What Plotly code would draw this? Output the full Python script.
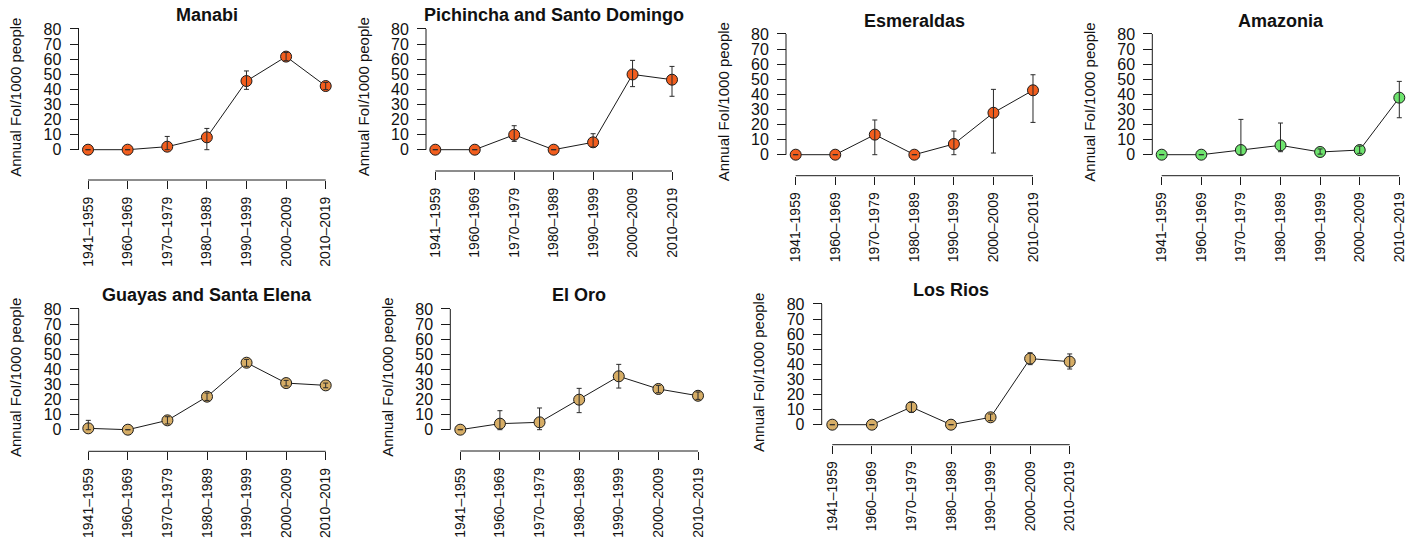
import plotly.graph_objects as go

# ---------------- data ----------------
periods = ["1941–1959", "1960–1969", "1970–1979", "1980–1989",
           "1990–1999", "2000–2009", "2010–2019"]
y_ticks = [0, 10, 20, 30, 40, 50, 60, 70, 80]

manabi_foi = [0, 0, 2.0, 8.2, 45.5, 61.7, 42.2]
manabi_hi = [0, 0, 8.8, 14.1, 52.2, 64.4, 44.6]
manabi_lo = [0, 0, 0, 0, 40.0, 59.0, 39.8]

pichincha_foi = [0, 0, 9.9, 0, 4.9, 49.9, 46.4]
pichincha_hi = [0, 0, 15.9, 0, 10.6, 59.2, 55.2]
pichincha_lo = [0, 0, 5.5, 0, 1.8, 41.8, 35.4]

esmeraldas_foi = [0, 0, 13.3, 0, 7.1, 27.8, 42.7]
esmeraldas_hi = [0, 0, 23.0, 0, 15.7, 43.3, 53.0]
esmeraldas_lo = [0, 0, 0, 0, 0, 1.1, 21.4]

amazonia_foi = [0, 0, 3.1, 6.2, 1.8, 3.1, 37.8]
amazonia_hi = [0, 0, 23.4, 21.0, 3.8, 5.7, 48.6]
amazonia_lo = [0, 0, 0, 2.0, 0.4, 0.9, 24.5]

guayas_foi = [0.9, 0, 6.2, 21.9, 44.4, 30.9, 29.4]
guayas_hi = [6.2, 0, 8.6, 24.3, 46.6, 32.7, 30.9]
guayas_lo = [0, 0, 3.8, 19.4, 42.0, 29.0, 27.8]

eloro_foi = [0, 4.0, 4.9, 19.9, 35.4, 27.0, 22.5]
eloro_hi = [0, 12.6, 14.4, 27.4, 43.3, 29.4, 25.0]
eloro_lo = [0, 0, 0, 11.3, 27.6, 24.5, 20.1]

losrios_foi = [0, 0, 11.7, 0, 4.9, 43.8, 41.8]
losrios_hi = [0, 0, 14.8, 0, 7.1, 47.7, 46.9]
losrios_lo = [0, 0, 8.2, 0, 2.7, 39.8, 36.9]

titles = ["Manabi", "Pichincha and Santo Domingo", "Esmeraldas", "Amazonia",
          "Guayas and Santa Elena", "El Oro", "Los Rios"]
series = [
    (manabi_foi, manabi_hi, manabi_lo),
    (pichincha_foi, pichincha_hi, pichincha_lo),
    (esmeraldas_foi, esmeraldas_hi, esmeraldas_lo),
    (amazonia_foi, amazonia_hi, amazonia_lo),
    (guayas_foi, guayas_hi, guayas_lo),
    (eloro_foi, eloro_hi, eloro_lo),
    (losrios_foi, losrios_hi, losrios_lo),
]

ORANGE = "#F25E1E"
GREEN = "#6EE46E"
TAN = "#D6AD66"
colors = [ORANGE, ORANGE, ORANGE, GREEN, TAN, TAN, TAN]

# ---------------- layout geometry (pixels) ----------------
W, H = 1419, 548
# yline: x of y-axis line; py0/py80: pixel y of values 0/80;
# px0/px6: pixel x of first/last category; xline: y of x-axis line; ty: title y
geom = [
    dict(yline=78.5, py0=149.7, py80=29.0, px0=88.0, px6=325.7, xline=180.0, ty=15.0),
    dict(yline=426.0, py0=149.7, py80=29.0, px0=435.3, px6=672.0, xline=171.0, ty=15.0),
    dict(yline=786.0, py0=154.7, py80=34.0, px0=795.7, px6=1033.0, xline=175.7, ty=20.7),
    dict(yline=1152.3, py0=154.7, py80=34.0, px0=1161.7, px6=1399.3, xline=175.7, ty=20.7),
    dict(yline=78.7, py0=429.7, py80=309.0, px0=88.3, px6=325.7, xline=451.3, ty=295.0),
    dict(yline=450.3, py0=429.7, py80=309.0, px0=460.3, px6=698.0, xline=451.0, ty=295.0),
    dict(yline=821.7, py0=424.7, py80=304.0, px0=832.3, px6=1069.7, xline=444.7, ty=290.0),
]

FONT = "Liberation Sans, Arial, Helvetica, sans-serif"
INK = "#111111"
LINE = "#1a1a1a"

fig = go.Figure()
shapes = []
annotations = []
layout_axes = {}

XPAD = 0.35
YLO, YHI = -8, 86

for i, (title, (vals, hi, lo), col, g) in enumerate(zip(titles, series, colors, geom)):
    k = i + 1
    xname = "x" if k == 1 else f"x{k}"
    yname = "y" if k == 1 else f"y{k}"
    xkey = "xaxis" if k == 1 else f"xaxis{k}"
    ykey = "yaxis" if k == 1 else f"yaxis{k}"

    n = len(periods) - 1
    sx = (g["px6"] - g["px0"]) / n
    xd0 = (g["px0"] - XPAD * sx) / W
    xd1 = (g["px6"] + XPAD * sx) / W
    sy = (g["py0"] - g["py80"]) / (y_ticks[-1] - y_ticks[0])
    py_lo = g["py0"] - YLO * sy
    py_hi = g["py0"] - YHI * sy
    yd0 = 1 - py_lo / H
    yd1 = 1 - py_hi / H

    layout_axes[xkey] = dict(
        domain=[xd0, xd1], range=[-XPAD, n + XPAD], type="category",
        categoryorder="array", categoryarray=periods,
        anchor="free", position=1 - g["xline"] / H,
        tickmode="array", tickvals=periods, ticktext=periods,
        tickangle=-90, ticks="outside", ticklen=8, tickwidth=1, tickcolor=LINE,
        ticklabelstandoff=2,
        showline=False, showgrid=False, zeroline=False,
        tickfont=dict(family=FONT, size=14, color=INK),
        fixedrange=True,
    )
    layout_axes[ykey] = dict(
        domain=[yd0, yd1], range=[YLO, YHI],
        anchor="free", position=g["yline"] / W,
        tickmode="array", tickvals=y_ticks,
        ticks="outside", ticklen=9, tickwidth=1, tickcolor=LINE,
        ticklabelstandoff=5,
        showline=False, showgrid=False, zeroline=False,
        tickfont=dict(family=FONT, size=16, color=INK),
        fixedrange=True,
    )

    up = [h - v for h, v in zip(hi, vals)]
    dn = [v - l for v, l in zip(vals, lo)]

    fig.add_trace(go.Scatter(
        x=periods, y=vals, mode="lines+markers", xaxis=xname, yaxis=yname,
        line=dict(color=LINE, width=1),
        marker=dict(size=11, color=col, line=dict(color=LINE, width=1)),
        cliponaxis=False, showlegend=False, hoverinfo="skip",
    ))
    fig.add_trace(go.Scatter(
        x=periods, y=vals, mode="markers", xaxis=xname, yaxis=yname,
        marker=dict(size=11, opacity=0),
        error_y=dict(type="data", symmetric=False, array=up, arrayminus=dn,
                     color="#2a2a2a", thickness=1, width=2.5),
        cliponaxis=False, showlegend=False, hoverinfo="skip",
    ))

    # axis lines spanning only the tick range (R base style)
    shapes.append(dict(type="line", xref=xname, yref="paper",
                       x0=0, x1=n,
                       y0=1 - g["xline"] / H, y1=1 - g["xline"] / H,
                       line=dict(color=LINE, width=1)))
    shapes.append(dict(type="line", xref="paper", yref=yname,
                       x0=g["yline"] / W, x1=g["yline"] / W,
                       y0=y_ticks[0], y1=y_ticks[-1],
                       line=dict(color=LINE, width=1)))

    annotations.append(dict(
        text=f"<b>{title}</b>", xref=xname, yref="paper", x=n / 2,
        y=1 - g["ty"] / H, xanchor="center", yanchor="middle", showarrow=False,
        font=dict(family=FONT, size=18, color=INK),
    ))
    annotations.append(dict(
        text="Annual FoI/1000 people", xref="paper", yref=yname,
        x=(g["yline"] - 63) / W, y=(y_ticks[0] + y_ticks[-1]) / 2, yshift=-8,
        textangle=-90, xanchor="center", yanchor="middle", showarrow=False,
        font=dict(family=FONT, size=15, color=INK),
    ))

fig.update_layout(
    width=W, height=H,
    margin=dict(l=0, r=0, t=0, b=0),
    paper_bgcolor="white", plot_bgcolor="white",
    shapes=shapes, annotations=annotations,
    showlegend=False,
    **layout_axes,
)

fig.write_html(
    "out.html",
    config={"displayModeBar": False},
    post_script="document.body.style.margin='0';document.body.style.overflow='hidden';",
)
